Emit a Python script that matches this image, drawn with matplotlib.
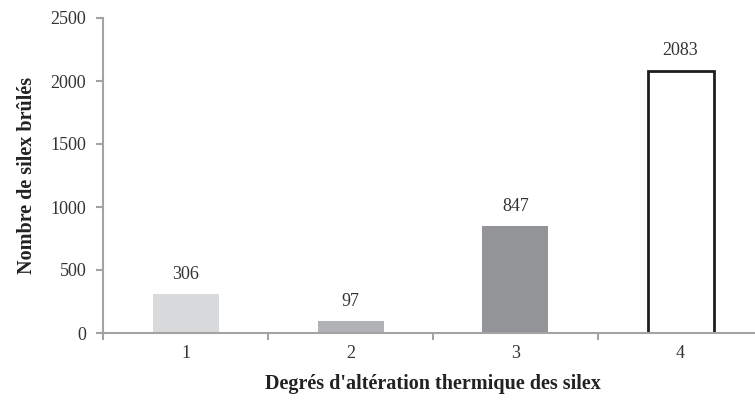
import matplotlib
matplotlib.use("Agg")
import matplotlib.pyplot as plt
import numpy as np

categories = ["1", "2", "3", "4"]
values = [306, 97, 847, 2083]
yticks = [0, 500, 1000, 1500, 2000, 2500]

face_colors = ["#d9dadc", "#b1b2b5", "#939497", "#ffffff"]
edge_colors = ["none", "none", "none", "#1e1e1e"]

plt.rcParams['font.family'] = ['Liberation Serif', 'DejaVu Serif']

fig = plt.figure(figsize=(7.55, 4.03), dpi=100)
W, H = 755, 403
ax = fig.add_axes([103 / W, (H - 333) / H, 660 / W, (333 - 18) / H])

x = np.arange(1, len(categories) + 1)
for xi, v, fc, ec in zip(x, values, face_colors, edge_colors):
    ax.bar(xi, v, width=0.4, color=fc, edgecolor=ec,
           linewidth=2.0 if ec != "none" else 0, zorder=2)
    ax.annotate(str(v), (xi, v), xytext=(0, 8), textcoords="offset points",
                ha="center", va="bottom", fontsize=13, color="#333333")

ax.set_xlim(0.5, 4.5)
ax.set_ylim(0, 2500)
ax.set_yticks(yticks)
ax.set_yticklabels([str(t) for t in yticks])
ax.set_xticks(x)
ax.set_xticklabels(categories)
ax.set_xticks(np.arange(0.5, 5.0, 1.0), minor=True)

for s in ["top", "right"]:
    ax.spines[s].set_visible(False)
for s in ["left", "bottom"]:
    ax.spines[s].set_color("#a3a3a3")
    ax.spines[s].set_linewidth(1.5)
    ax.spines[s].set_zorder(3)

ax.tick_params(axis="y", direction="out", length=5, width=1.5, color="#a3a3a3",
               labelsize=13, labelcolor="#333333", pad=7)
ax.tick_params(axis="x", which="major", length=0, labelsize=13,
               labelcolor="#333333", pad=9)
ax.tick_params(axis="x", which="minor", direction="out", length=5, width=1.5,
               color="#a3a3a3")

ax.set_xlabel("Degrés d'altération thermique des silex", fontsize=14.5,
              fontweight="bold", color="#222222", labelpad=8)
ax.set_ylabel("Nombre de silex brûlés", fontsize=14.5, fontweight="bold",
              color="#222222", labelpad=10)

fig.savefig("out.png", dpi=100)
